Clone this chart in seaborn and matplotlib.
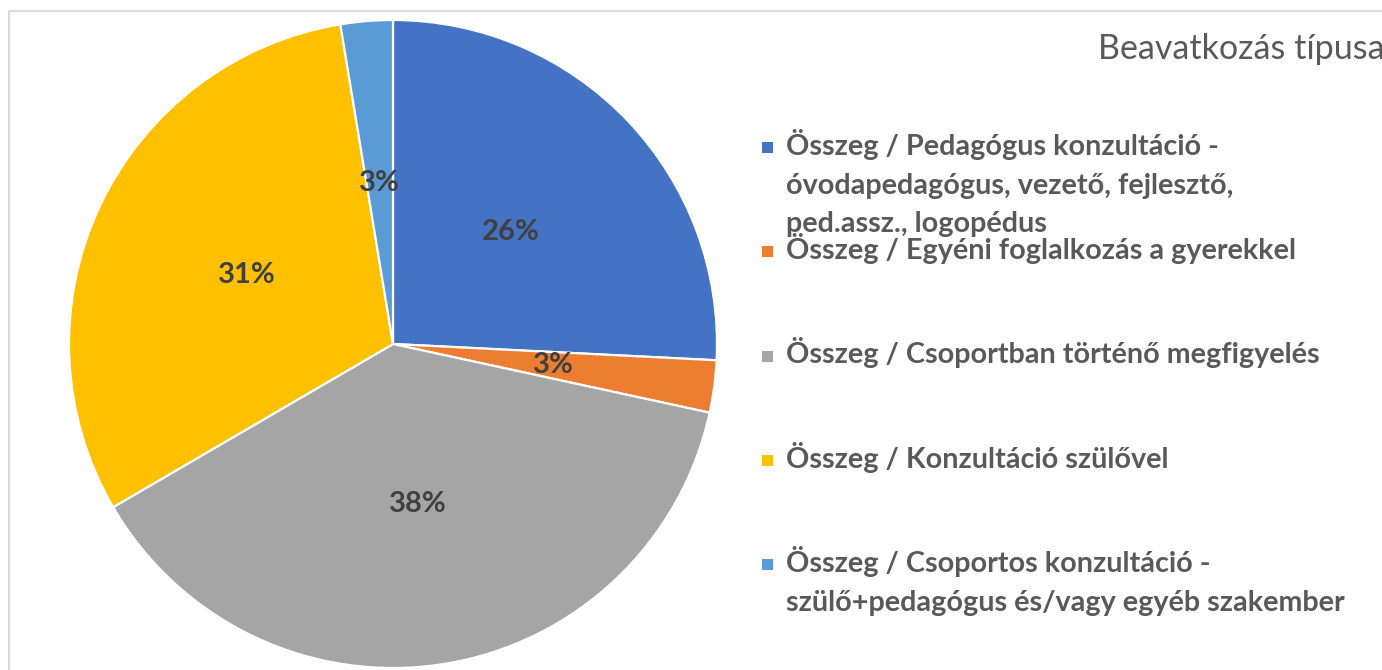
import matplotlib
matplotlib.use("Agg")
import matplotlib.pyplot as plt
import seaborn as sns
from matplotlib.patches import Rectangle

# data
categories = [
    "Összeg / Pedagógus konzultáció -\nóvodapedagógus, vezető, fejlesztő,\nped.assz., logopédus",
    "Összeg / Egyéni foglalkozás a gyerekkel",
    "Összeg / Csoportban történő megfigyelés",
    "Összeg / Konzultáció szülővel",
    "Összeg / Csoportos konzultáció -\nszülő+pedagógus és/vagy egyéb szakember",
]
values = [25.8, 2.6, 38.2, 30.8, 2.6]
colors = ["#4472C4", "#ED7D31", "#A5A5A5", "#FFC000", "#5B9BD5"]
legend_title = "Beavatkozás típusa"

sns.set_theme(style="white")
plt.rcParams["font.family"] = ["Lato", "DejaVu Sans"]

W, H = 1382, 670
fig = plt.figure(figsize=(W / 100, H / 100), dpi=100)
fig.patch.set_facecolor("white")

# light frame around the chart area (runs off the right and bottom edge)
fig.patches.append(Rectangle((9 / W, -0.05), 1.2, (H - 11) / H + 0.05,
                             transform=fig.transFigure, fill=False,
                             edgecolor="#D9D9D9", linewidth=1.5))

cx, cy, r = 393, 344, 324
ax = fig.add_axes([(cx - r) / W, (H - cy - r) / H, 2 * r / W, 2 * r / H])
wedges, texts, autotexts = ax.pie(
    values, colors=colors, startangle=90, counterclock=False,
    autopct="%1.0f%%", pctdistance=0.5,
    wedgeprops=dict(edgecolor="white", linewidth=1.6),
    textprops=dict(color="#404040", fontsize=21, fontweight="bold"),
)
for w in wedges:
    w.set_clip_on(False)
ax.set_xlim(-1, 1)
ax.set_ylim(-1, 1)
ax.set_aspect("equal")
ax.axis("off")

# legend drawn by hand to keep the spacing of the original
fig.text(1098 / W, 1 - 59 / H, legend_title, fontsize=24.5, color="#595959",
         ha="left", va="baseline")

for i, (label, col) in enumerate(zip(categories, colors)):
    base = 155 + i * 104.25
    fig.patches.append(Rectangle((762 / W, 1 - (base - 2) / H), 11 / W, 11 / H,
                                 transform=fig.transFigure, facecolor=col,
                                 edgecolor="none"))
    for j, line in enumerate(label.split("\n")):
        fig.text(786 / W, 1 - (base + j * 38.5) / H, line, fontsize=20.7,
                 fontweight="bold", color="#595959", ha="left", va="baseline")

fig.savefig("out.png", dpi=100, facecolor="white")
